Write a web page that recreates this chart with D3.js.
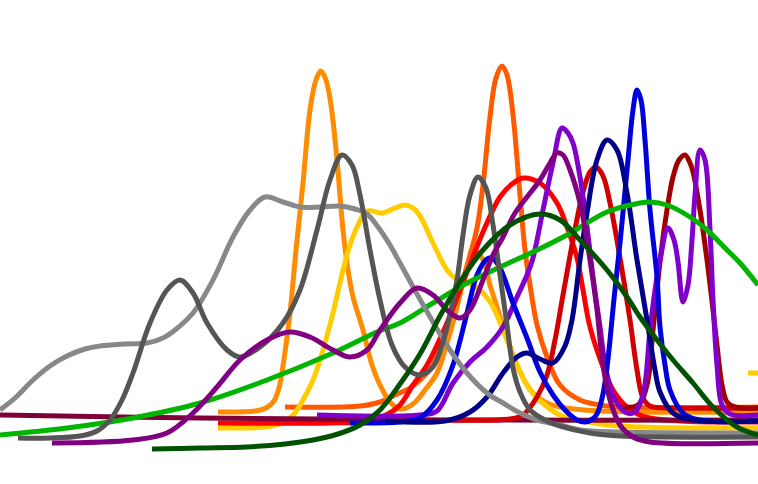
<!DOCTYPE html>
<html>
<head>
<meta charset="utf-8">
<script src="https://cdn.jsdelivr.net/npm/d3@7"></script>
<style>
  html, body { margin: 0; padding: 0; background: #ffffff; }
  svg { display: block; }
</style>
</head>
<body>
<div id="chart"></div>
<script>
// Each series: [x, height] pairs
const orangeRed = [[285,77],[360,78],[380,82],[395,89],[410,96],[420,104],[433,119],[447,154],[460,194],[470,229],[477,256],[483,299],[490,367],[496,406],[502,418],[507,409],[513,369],[520,289],[525,234],[530,199],[537,159],[547,127],[560,99],[580,84],[600,79],[620,77],[758,77]];
const orange = [[218,72],[255,73],[266,76],[274,83],[279,96],[284,125],[290,171],[296,234],[303,301],[310,374],[316,404],[321,413],[326,404],[331,379],[337,324],[343,254],[348,214],[353,187],[363,154],[372,119],[380,99],[390,82],[400,75],[413,80],[425,94],[437,111],[447,141],[455,169],[463,201],[470,222],[477,232],[484,222],[490,199],[497,177],[507,146],[520,112],[533,91],[547,81],[560,77],[600,73],[758,72]];
const yellow = [[218,56],[265,57],[282,61],[294,70],[303,84],[313,104],[320,124],[333,171],[343,214],[350,239],[358,259],[367,273],[383,271],[395,276],[405,279],[413,276],[420,268],[433,241],[447,214],[455,206],[465,202],[480,194],[492,179],[503,154],[515,124],[530,94],[545,79],[560,69],[600,60],[640,57],[758,56]];
const yellowTail = [[748,111],[758,111]];
const red = [[218,61],[330,61],[370,63],[388,70],[400,79],[413,99],[427,119],[447,161],[467,212],[483,252],[500,287],[512,300],[523,306],[540,301],[557,281],[567,257],[577,226],[583,194],[590,157],[603,117],[613,94],[627,77],[645,67],[680,63],[758,62]];
const maroon = [[0,69],[200,66],[450,64],[758,64]];
const darkRedA = [[450,64],[510,65],[523,69],[537,87],[547,109],[555,144],[563,189],[573,244],[583,292],[590,312],[596,317],[603,308],[610,281],[620,226],[630,164],[637,114],[643,86],[650,78],[680,76],[758,76]];
const darkRedB = [[620,77],[638,79],[647,99],[653,154],[660,222],[667,274],[673,307],[679,324],[685,329],[690,321],[693,312],[700,274],[707,224],[713,174],[717,139],[722,99],[727,82],[735,77],[758,76]];
const violet = [[317,69],[420,69],[437,73],[453,101],[470,122],[487,137],[503,157],[517,187],[527,209],[533,226],[543,274],[553,321],[562,356],[568,351],[573,341],[580,307],[587,257],[593,207],[600,157],[606,114],[615,84],[627,71],[635,72],[643,89],[650,154],[655,194],[660,224],[668,256],[674,244],[678,222],[683,182],[688,199],[692,244],[695,289],[700,334],[705,324],[710,254],[713,184],[717,119],[722,79],[730,70],[758,69]];
const blue = [[350,61],[400,62],[420,66],[437,84],[453,119],[467,171],[477,209],[487,225],[492,226],[500,216],[513,181],[527,146],[540,112],[553,89],[565,74],[577,64],[585,62],[591,64],[597,70],[603,90],[608,125],[614,185],[620,241],[628,324],[633,374],[637,394],[641,384],[645,344],[650,274],[657,207],[660,157],[665,119],[670,94],[683,71],[700,64],[758,63]];
const navy = [[385,63],[445,63],[470,72],[487,87],[503,111],[517,127],[527,131],[540,125],[553,121],[565,138],[572,164],[580,224],[587,271],[597,324],[607,344],[617,334],[627,291],[637,224],[647,164],[655,114],[660,92],[673,71],[693,64],[758,63]];
const green = [[0,49],[67,56],[133,66],[200,81],[267,104],[333,131],[377,152],[400,161],[433,181],[467,201],[500,217],[533,232],[567,249],[607,272],[640,281],[650,282],[667,279],[690,267],[707,254],[727,234],[740,221],[758,199]];
const lightGray = [[0,74],[15,86],[33,104],[50,118],[67,128],[85,135],[100,138],[125,140],[147,141],[163,146],[175,154],[193,171],[213,204],[233,247],[250,274],[265,287],[283,282],[300,277],[320,277],[340,278],[355,275],[367,270],[378,257],[390,239],[400,221],[417,190],[433,162],[450,134],[467,111],[487,91],[503,81],[520,71],[537,64],[560,59],[580,54],[620,52],[758,51]];
const darkGray = [[18,46],[50,46],[80,48],[97,53],[110,64],[122,84],[133,111],[150,161],[167,194],[180,204],[193,191],[207,161],[227,134],[240,127],[260,137],[283,161],[300,194],[317,254],[330,304],[342,329],[352,319],[360,289],[370,234],[380,184],[392,139],[405,117],[420,109],[433,117],[442,139],[450,169],[457,204],[463,249],[470,289],[478,307],[486,296],[493,259],[500,209],[507,159],[513,116],[520,92],[530,74],[547,63],[560,58],[590,51],[620,48],[758,47]];
const purple = [[52,41],[133,44],[167,51],[193,71],[217,97],[240,124],[267,144],[290,152],[310,147],[333,134],[350,127],[367,134],[380,154],[400,181],[417,196],[433,189],[447,174],[460,166],[470,174],[483,204],[493,229],[503,247],[515,271],[527,287],[540,304],[550,321],[557,331],[563,329],[570,314],[580,281],[590,224],[597,174],[603,119],[610,84],[620,59],[633,47],[650,42],[758,41]];
const darkGreen = [[152,35],[200,36],[247,37],[285,40],[313,44],[338,50],[360,59],[380,74],[400,100],[420,130],[440,168],[460,202],[483,234],[510,259],[540,270],[560,264],[580,244],[607,214],[627,187],[640,167],[657,144],[673,124],[693,101],[713,77],[737,57],[758,49]];

const seriesNames = ["orangeRed","orange","yellow","yellowTail","red","maroon","darkRedA","darkRedB","violet","blue","navy","green","lightGray","darkGray","purple","darkGreen"];
const seriesData = [orangeRed, orange, yellow, yellowTail, red, maroon, darkRedA, darkRedB, violet, blue, navy, green, lightGray, darkGray, purple, darkGreen];
const seriesColors = ["#ff5a00","#ff8c00","#ffcc00","#ffcc00","#ff0000","#800038","#d20000","#a00000","#8000cc","#0000dd","#000088","#00b400","#888888","#555555","#800080","#005200"];

const W = 758, H = 484;
const svg = d3.select("#chart").append("svg").attr("width", W).attr("height", H);
svg.append("rect").attr("width", W).attr("height", H).attr("fill", "#fff");

const x = d3.scaleLinear().domain([0, 758]).range([0, W]);
const y = d3.scaleLinear().domain([0, 484]).range([H, 0]);

const line = d3.line()
  .x(d => x(d[0]))
  .y(d => y(d[1]))
  .curve(d3.curveCatmullRom.alpha(0.5));

svg.selectAll("path.ridge")
  .data(seriesData)
  .join("path")
  .attr("class", (d, i) => "ridge " + seriesNames[i])
  .attr("d", line)
  .attr("fill", "none")
  .attr("stroke", (d, i) => seriesColors[i])
  .attr("stroke-width", 5)
  .attr("stroke-linejoin", "round")
  .attr("stroke-linecap", "butt");
</script>
</body>
</html>
